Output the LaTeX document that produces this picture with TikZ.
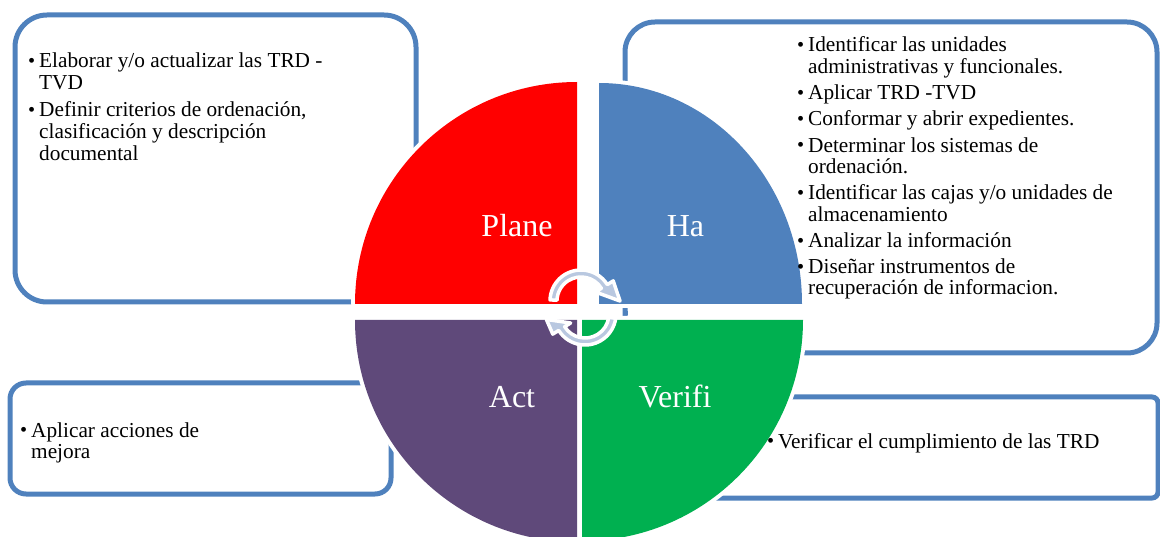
\documentclass[tikz,border=0pt]{standalone}
\usepackage{fontspec}
\setmainfont{Liberation Serif}
\usepackage{graphicx}
\definecolor{boxblue}{HTML}{4F81BD}
\definecolor{qred}{HTML}{FF0000}
\definecolor{qblue}{HTML}{4F81BD}
\definecolor{qpurple}{HTML}{5F497A}
\definecolor{qgreen}{HTML}{00B050}
\definecolor{arrowblue}{HTML}{B9C8E0}
\newcommand\bodyfont{\fontsize{21.3}{22}\selectfont}
\newcommand\labelfont{\fontsize{32}{34}\selectfont}
\newcommand\bitem[1]{\hbox{\makebox[11pt][l]{\raisebox{0.3pt}{\scalebox{0.95}{\textbullet}}}#1}}
\newcommand\bcont[1]{\hbox{\hspace*{11pt}#1}}
\tikzset{
  panel/.style={draw=boxblue, line width=5pt},
  qlabel/.style={anchor=base, inner sep=0pt, text=white, font=\labelfont},
  btext/.style={anchor=base west, inner sep=0pt, font=\bodyfont, text=black},
  halo/.style={fill=white, draw=white, line width=8pt, line join=round},
  arrowband/.style={fill=arrowblue, draw=white, line width=3.5pt, line join=round}
}
\begin{document}
\begin{tikzpicture}[x=1pt,y=-1pt]
\useasboundingbox (0,0) rectangle (1160,537);
\begin{scope}
\clip (0,0) rectangle (1160,537);
% text panels
\draw[panel, rounded corners=32pt] (15,15) rectangle (416,302);
\draw[panel, rounded corners=30pt] (625,22) rectangle (1157,353);
\draw[panel, rounded corners=16pt] (10,383) rectangle (391,494);
\draw[panel, rounded corners=6pt] (700,397) rectangle (1158,498);
% white halos of the quadrants
\path[halo] (577,304) -- (355,304) arc[start angle=180, end angle=270, radius=222] -- cycle;
\path[halo] (599,304) -- (599,83) arc[start angle=270, end angle=360, x radius=203, y radius=221] -- cycle;
\path[halo] (577,320) -- (577,542) arc[start angle=90, end angle=180, radius=222] -- cycle;
\path[halo] (582,320) -- (803,320) arc[start angle=0, end angle=90, radius=221] -- cycle;
% quadrants
\fill[qred] (577,304) -- (355,304) arc[start angle=180, end angle=270, radius=222] -- cycle;
\fill[qblue] (599,304) -- (599,83) arc[start angle=270, end angle=360, x radius=203, y radius=221] -- cycle;
\fill[qpurple] (577,320) -- (577,542) arc[start angle=90, end angle=180, radius=222] -- cycle;
\fill[qgreen] (582,320) -- (803,320) arc[start angle=0, end angle=90, radius=221] -- cycle;
% quadrant labels
\node[qlabel] (plane) at (517,237) {Plane};
\node[qlabel] (ha) at (685.5,237) {Ha};
\node[qlabel] (act) at (512,408) {Act};
\node[qlabel] (verifi) at (675,408) {Verifi};
% cycle arrows
\path[arrowband] ([shift={(581,301)}]182:31) arc[start angle=182, end angle=328, radius=31]
  -- ([shift={(581,301)}]328:38) -- ([shift={(581,301)}]0:39) -- ([shift={(581,301)}]328:17)
  -- ([shift={(581,301)}]328:24) arc[start angle=328, end angle=182, radius=24] -- cycle;
\path[arrowband] ([shift={(585,314)}]8:31) arc[start angle=8, end angle=148, radius=31]
  -- ([shift={(585,314)}]148:38) -- ([shift={(585,314)}]172:39) -- ([shift={(585,314)}]148:17)
  -- ([shift={(585,314)}]148:24) arc[start angle=148, end angle=8, radius=24] -- cycle;
\fill[boxblue] (624,311) rectangle (628,315);
% panel texts
\node[btext] (plantext) at (28,68) {\vtop{\baselineskip=21.8pt
  \bitem{Elaborar y/o actualizar las TRD -}\bcont{TVD}\vskip5pt
  \bitem{Definir criterios de ordenación,}\bcont{clasificación y descripción}\bcont{documental}}};
\node[btext] (hacertext) at (797,52) {\vtop{\baselineskip=21.3pt
  \bitem{Identificar las unidades}\bcont{administrativas y funcionales.}\vskip5pt
  \bitem{Aplicar TRD -TVD}\vskip5pt
  \bitem{Conformar y abrir expedientes.}\vskip5pt
  \bitem{Determinar los sistemas de}\bcont{ordenación.}\vskip5pt
  \bitem{Identificar las cajas y/o unidades de}\bcont{almacenamiento}\vskip5pt
  \bitem{Analizar la información}\vskip5pt
  \bitem{Diseñar instrumentos de}\bcont{recuperación de informacion.}}};
\node[btext] (acttext) at (20,437) {\vtop{\baselineskip=21.3pt
  \bitem{Aplicar acciones de}\bcont{mejora}}};
\node[btext] (veriftext) at (767,448) {\vtop{\baselineskip=21.3pt
  \bitem{Verificar el cumplimiento de las TRD}}};
\end{scope}
\end{tikzpicture}
\end{document}
